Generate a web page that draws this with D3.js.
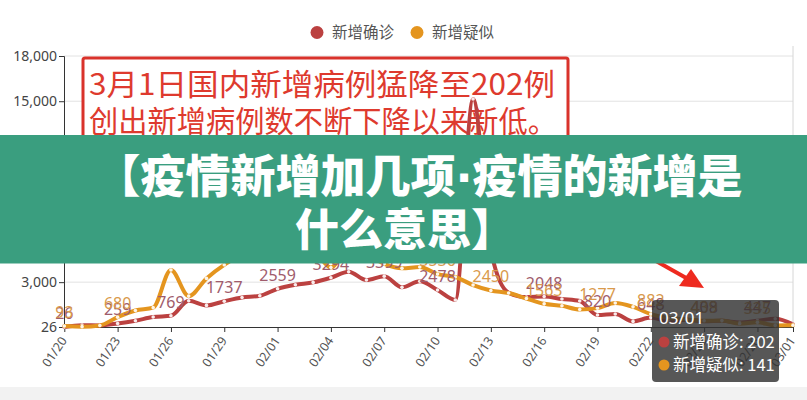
<!DOCTYPE html>
<html><head><meta charset="utf-8">
<script src="https://cdn.jsdelivr.net/npm/d3@7"></script>
<style>html,body{margin:0;padding:0;background:#fff;}svg{display:block;}</style>
</head><body><svg id="c" width="807" height="400"></svg>
<script>
const dates = ["01/20","01/21","01/22","01/23","01/24","01/25","01/26","01/27","01/28","01/29","01/30","01/31",
  "02/01","02/02","02/03","02/04","02/05","02/06","02/07","02/08","02/09","02/10","02/11","02/12","02/13","02/14",
  "02/15","02/16","02/17","02/18","02/19","02/20","02/21","02/22","02/23","02/24","02/25","02/26","02/27","02/28","02/29","03/01"];
const confirmed = [26,149,131,259,444,688,769,1771,1459,1737,1982,2102,
  2559,2829,2985,3294,3694,3143,3399,2656,3062,2478,1820,15152,5090,2300,
  2009,2048,1886,1749,820,889,397,648,409,508,408,433,327,447,573,202];
const suspected = [93,50,130,680,1118,1309,3806,2077,3248,4148,4812,5019,
  4562,5173,5072,3971,5328,4833,4214,3916,4008,3536,3342,2807,2450,2277,
  1918,1563,1432,1185,1277,1614,1361,882,620,530,439,452,248,335,132,141];
const yTicks = [26,3000,6000,9000,12000,15000,18000];
const xTickLabels = ["01/20","01/23","01/26","01/29","02/01","02/04","02/07","02/10","02/13","02/16","02/19","02/22","02/25","02/28","03/01"];
const seriesNames = ["新增确诊","新增疑似"];
const boxLines = ["3月1日国内新增病例猛降至202例","创出新增病例数不断下降以来新低。"];
const bannerLine1 = ["【疫情新增加几项","·","疫情的新增是"];
const bannerLine2 = "什么意思】";
const tooltipDate = "03/01";

const colors = ["#bb4140","#e4951f"];
const labelColors = ["#a05c6c","#d99a4c"];
const FONT = "'Noto Sans','Noto Sans CJK SC',sans-serif";
const CJK = "'Noto Sans CJK SC',sans-serif";

const svg = d3.select("#c");
const x = d3.scalePoint().domain(dates).range([64.3, 793]);
const y = d3.scaleLinear().domain([26, 18000]).range([327, 56]);

// bottom band
svg.append("rect").attr("x",0).attr("y",387).attr("width",807).attr("height",13).attr("fill","#f2f2f2");

// gridlines
svg.append("g").selectAll("line").data(yTicks.slice(1)).join("line")
  .attr("x1",64).attr("x2",793).attr("y1",d=>y(d)).attr("y2",d=>y(d))
  .attr("stroke","#e2e2e2").attr("stroke-width",1);

// axis pointer
svg.append("line").attr("x1",x("03/01")).attr("x2",x("03/01")).attr("y1",y(18000)-10).attr("y2",y(26))
  .attr("stroke","#d6d6d6").attr("stroke-width",1);

// red annotation box
svg.append("rect").attr("x",83).attr("y",58).attr("width",485).attr("height",100).attr("rx",2)
  .attr("fill","#fff").attr("stroke","#d9322b").attr("stroke-width",3);
const boxLen = [466, 468];
svg.append("g").selectAll("text").data(boxLines).join("text")
  .attr("x",89).attr("y",(d,i)=>95+i*37)
  .attr("font-family",CJK).attr("font-size",30).attr("fill","#de3a2e")
  .attr("textLength",(d,i)=>boxLen[i]).attr("lengthAdjust","spacingAndGlyphs")
  .text(d=>d);

// y axis
const yAxis = d3.axisLeft(y).tickValues(yTicks).tickSize(5).tickFormat(d3.format(","));
const gy = svg.append("g").attr("transform","translate(64,0)").call(yAxis);
gy.select(".domain").attr("stroke","#333");
gy.selectAll(".tick line").attr("stroke","#333");
gy.selectAll(".tick text").attr("font-family",FONT).attr("font-size",14).attr("fill","#444").attr("x",-7);

// x axis
const xAxis = d3.axisBottom(x).tickValues(xTickLabels).tickSize(5).tickSizeOuter(0);
const gx = svg.append("g").attr("transform","translate(0,327)").call(xAxis);
gx.select(".domain").attr("stroke","#333");
gx.selectAll(".tick line").attr("stroke","#333");
gx.selectAll(".tick text").attr("font-family",FONT).attr("font-size",12.5).attr("fill","#555")
  .attr("text-anchor","end").attr("dy","0.35em").attr("y",0)
  .attr("transform","translate(-1,11) rotate(-56)");

// series
const series = [confirmed, suspected];
const line = d3.line().x((d,i)=>x(dates[i])).y(d=>y(d)).curve(d3.curveMonotoneX);
series.forEach((s,k)=>{
  svg.append("path").attr("d",line(s)).attr("fill","none").attr("stroke",colors[k])
    .attr("stroke-width",4).attr("stroke-linejoin","round").attr("stroke-linecap","round");
  svg.append("g").selectAll("circle").data(s).join("circle")
    .attr("cx",(d,i)=>x(dates[i])).attr("cy",d=>y(d)).attr("r",1.8).attr("fill","#fff").attr("opacity",0.9);
});
series.forEach((s,k)=>{
  svg.append("g").selectAll("text").data(s.map((v,i)=>({v,i})).filter(d=>d.i%3===0 && d.i<41)).join("text")
    .attr("x",d=>x(dates[d.i])).attr("y",d=>y(d.v)-8).attr("text-anchor","middle")
    .attr("font-family",FONT).attr("font-size",16).attr("fill",labelColors[k])
    .text(d=>d.v);
});

// legend
const legX = [317, 417];
seriesNames.forEach((n,k)=>{
  svg.append("circle").attr("cx",legX[k]).attr("cy",32.5).attr("r",6.5).attr("fill",colors[k]);
  svg.append("text").attr("x",legX[k]+15).attr("y",38).attr("font-family",CJK).attr("font-size",15.5)
    .attr("fill","#555").text(n);
});

// arrow
svg.append("line").attr("x1",640).attr("y1",252).attr("x2",688).attr("y2",279)
  .attr("stroke","#ee2a1f").attr("stroke-width",4);
svg.append("path").attr("d","M704,288 L679,286 L691,269 Z").attr("fill","#ee2a1f");

// banner
svg.append("rect").attr("x",0).attr("y",135).attr("width",807).attr("height",128.5).attr("fill","#3a9e7f");
const t1 = svg.append("text").attr("x",419).attr("y",193).attr("text-anchor","middle")
  .attr("font-family",CJK).attr("font-weight",900).attr("font-size",45).attr("fill","#fff");
bannerLine1.forEach((s,i)=>{
  t1.append("tspan").attr("font-family", i===1 ? "'DejaVu Sans',sans-serif" : CJK).text(s);
});
svg.append("text").attr("x",405).attr("y",246).attr("text-anchor","middle")
  .attr("font-family",CJK).attr("font-weight",900).attr("font-size",44).attr("fill","#fff")
  .text(bannerLine2);

// tooltip
const last = dates.length-1;
const tt = svg.append("g");
tt.append("rect").attr("x",652).attr("y",300).attr("width",127).attr("height",82).attr("rx",4)
  .attr("fill","rgba(50,50,50,0.82)");
tt.append("text").attr("x",659).attr("y",324).attr("font-family",FONT).attr("font-size",17).attr("fill","#fff").text(tooltipDate);
seriesNames.forEach((n,k)=>{
  tt.append("circle").attr("cx",664).attr("cy",342+k*23).attr("r",5.5).attr("fill",colors[k]);
  tt.append("text").attr("x",673).attr("y",348+k*23).attr("font-family",CJK).attr("font-size",16.5).attr("fill","#fff")
    .text(n+": "+series[k][last]);
});
</script></body></html>
